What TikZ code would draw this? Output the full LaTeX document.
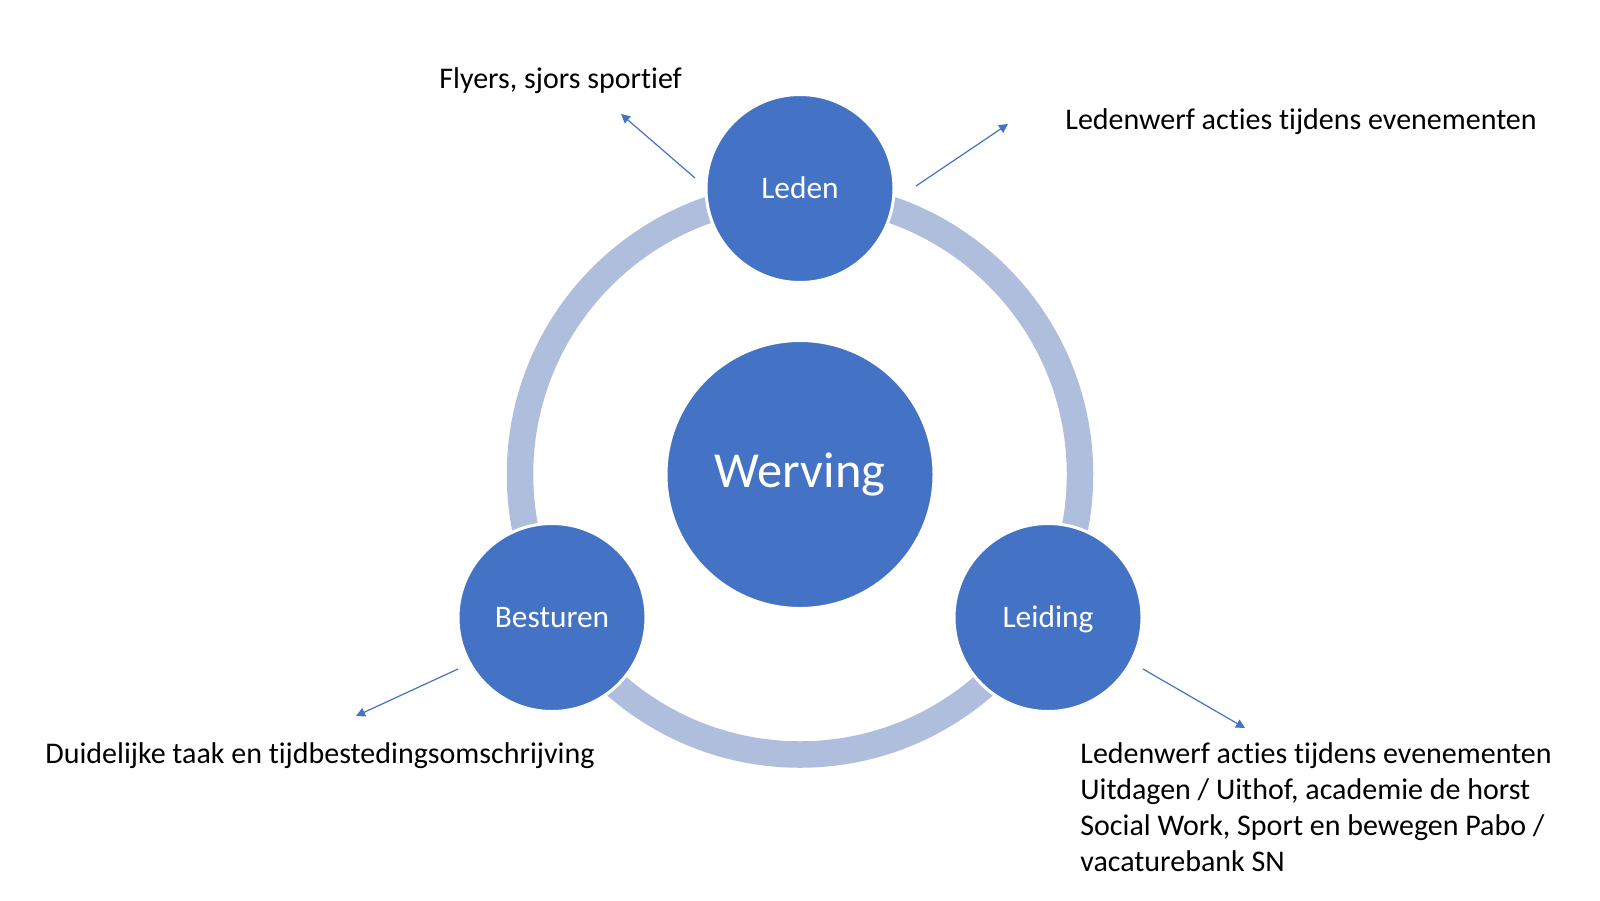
\documentclass[tikz,border=0pt]{standalone}
\usepackage{fontspec}
\setmainfont{Carlito}[Ligatures=NoCommon]
\usetikzlibrary{arrows.meta}
\definecolor{nodeblue}{HTML}{4472C4}
\definecolor{ringblue}{RGB}{176,190,222}
\begin{document}
\begin{tikzpicture}[x=0.5pt,y=-0.5pt,
  ringstyle/.style={draw=ringblue,line width=13.25pt},
  smallnode/.style={circle,fill=nodeblue,draw=white,line width=1.5pt,minimum size=94pt,inner sep=0pt,text=white,text height=13pt,text depth=2.6pt,font=\fontsize{15.7pt}{19pt}\selectfont},
  bignode/.style={circle,fill=nodeblue,draw=white,line width=1.5pt,minimum size=134pt,inner sep=0pt,text=white,font=\fontsize{25.2pt}{30pt}\selectfont},
  arr/.style={draw=nodeblue,line width=0.6pt,-{Triangle[length=4.5pt,width=4.5pt]}},
  lbl/.style={inner sep=0pt,align=left,text=black,font=\fontsize{15pt}{17.9pt}\selectfont}
]
\useasboundingbox (0,0) rectangle (1600,900);
\coordinate (c) at (800,474.5);
\draw[ringstyle] (c) circle[radius=280];
\node[bignode] (werving) at (c) {Werving};
\node[smallnode] (leden) at (800,188.5) {Leden};
\node[smallnode] (besturen) at (552,617.5) {Besturen};
\node[smallnode] (leiding) at (1048,617.5) {Leiding};
% arrows
\coordinate (a1s) at (695,178);
\coordinate (a1e) at (621,114);
\coordinate (a2s) at (916,186);
\coordinate (a2e) at (1008,124);
\coordinate (a3s) at (458,669);
\coordinate (a3e) at (356,716);
\coordinate (a4s) at (1143,669);
\coordinate (a4e) at (1245,728);
\draw[arr] (a1s) -- (a1e);
\draw[arr] (a2s) -- (a2e);
\draw[arr] (a3s) -- (a3e);
\draw[arr] (a4s) -- (a4e);
% labels
\node[lbl,anchor=base west] (t1) at (439,88) {Flyers, sjors sportief};
\node[lbl,anchor=base west] (t2) at (1065,129) {Ledenwerf acties tijdens evenementen};
\node[lbl,anchor=base west] (t3) at (45,763) {Duidelijke taak en tijdbestedingsomschrijving};
\node[lbl,anchor=base west] (t4) at (1080,763) {Ledenwerf acties tijdens evenementen};
\node[lbl,anchor=base west] (t5) at (1080,799.8) {Uitdagen / Uithof, academie de horst};
\node[lbl,anchor=base west] (t6) at (1080,835.5) {Social Work, Sport en bewegen Pabo /};
\node[lbl,anchor=base west] (t7) at (1080,871.2) {vacaturebank SN};
\end{tikzpicture}
\end{document}
